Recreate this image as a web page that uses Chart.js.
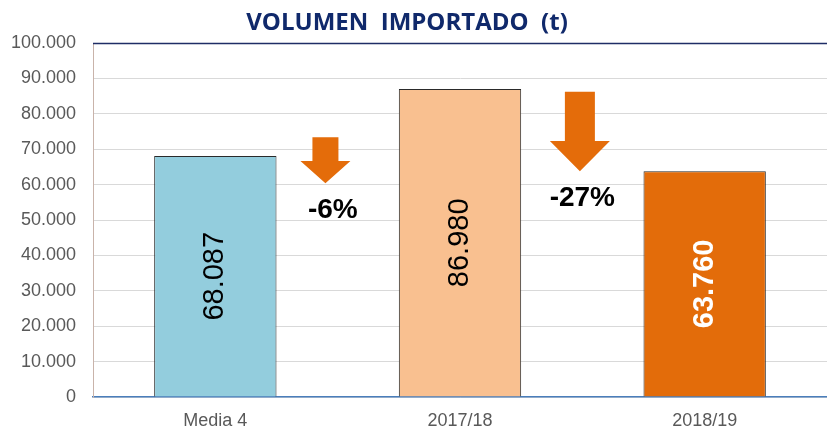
<!DOCTYPE html>
<html>
<head>
<meta charset="utf-8">
<script src="https://cdn.jsdelivr.net/npm/chart.js@4/dist/chart.umd.min.js"></script>
<style>
  html, body { margin: 0; padding: 0; background: #fff; }
  #wrap { width: 827px; height: 440px; position: relative; }
</style>
</head>
<body>
<div id="wrap"><canvas id="volChart"></canvas></div>
<script>
// ── Data ───────────────────────────────────────────────────────
const categories = ['Media 4', '2017/18', '2018/19'];
const volumes = [68087, 86980, 63760];
const barColors = ['#93cddd', '#f9c090', '#e36c0a'];
const labelColors = ['#000000', '#000000', '#ffffff'];

const yTicks = [0, 10000, 20000, 30000, 40000, 50000, 60000, 70000, 80000, 90000, 100000];

// change arrows between bars (x in category index, y in tonnes)
const changeLabels = ['-6%', '-27%'];
const arrowX = [0.45, 1.49];
const arrowTop = [73400, 86200];
const arrowHeadTop = [66700, 72300];
const arrowTip = [60400, 63800];
const changeLabelX = [0.48, 1.50];
const changeLabelY = [52800, 56000];

const fmt = (v) => v.toLocaleString('de-DE');

// ── Plugins ────────────────────────────────────────────────────
const decorPlugin = {
  id: 'decor',
  afterDatasetsDraw(chart) {
    const { ctx, chartArea, scales } = chart;
    const xs = scales.x, ys = scales.y;

    // navy line along the top of the plot
    ctx.save();
    ctx.strokeStyle = '#1f2d66';
    ctx.lineWidth = 1.5;
    ctx.beginPath();
    ctx.moveTo(chartArea.left, chartArea.top + 0.5);
    ctx.lineTo(chartArea.right, chartArea.top + 0.5);
    ctx.stroke();

    // rotated value labels inside bars
    const meta = chart.getDatasetMeta(0);
    meta.data.forEach((bar, i) => {
      const cy = (bar.y + bar.base) / 2;
      ctx.save();
      ctx.translate(bar.x, cy);
      ctx.rotate(-Math.PI / 2);
      ctx.fillStyle = labelColors[i];
      ctx.font = (i === 2 ? 'bold ' : '') + '29px "Liberation Sans", Arial, sans-serif';
      ctx.textAlign = 'center';
      ctx.textBaseline = 'middle';
      ctx.fillText(fmt(volumes[i]), 0, 0);
      ctx.restore();
    });

    // down arrows
    const shaftW = [26, 30], headW = [50, 60];
    ctx.fillStyle = '#e46c0a';
    arrowX.forEach((ax, i) => {
      const cx = xs.getPixelForValue(ax);
      const t = ys.getPixelForValue(arrowTop[i]);
      const h = ys.getPixelForValue(arrowHeadTop[i]);
      const b = ys.getPixelForValue(arrowTip[i]);
      ctx.beginPath();
      ctx.moveTo(cx - shaftW[i] / 2, t);
      ctx.lineTo(cx + shaftW[i] / 2, t);
      ctx.lineTo(cx + shaftW[i] / 2, h);
      ctx.lineTo(cx + headW[i] / 2, h);
      ctx.lineTo(cx, b);
      ctx.lineTo(cx - headW[i] / 2, h);
      ctx.lineTo(cx - shaftW[i] / 2, h);
      ctx.closePath();
      ctx.fill();
    });

    // percent change labels
    ctx.fillStyle = '#000';
    ctx.font = 'bold 28px "Liberation Sans", Arial, sans-serif';
    ctx.textAlign = 'center';
    ctx.textBaseline = 'middle';
    changeLabels.forEach((t, i) => {
      ctx.fillText(t, xs.getPixelForValue(changeLabelX[i]), ys.getPixelForValue(changeLabelY[i]));
    });

    // title
    ctx.fillStyle = '#10296b';
    ctx.font = 'bold 24px "Open Sans", sans-serif';
    ctx.fillText('VOLUMEN  IMPORTADO  (t)', 407, 23);
    ctx.restore();
  }
};

// ── Chart ──────────────────────────────────────────────────────
new Chart(document.getElementById('volChart'), {
  type: 'bar',
  data: {
    labels: categories,
    datasets: [{
      data: volumes,
      backgroundColor: barColors,
      borderColor: '#2a2a2a',
      borderWidth: 1,
      barPercentage: 1,
      categoryPercentage: 0.5
    }]
  },
  options: {
    responsive: true, maintainAspectRatio: false, animation: false,
    layout: { padding: { top: 43, right: 0, left: 0, bottom: 0 } },
    plugins: { legend: { display: false }, tooltip: { enabled: false }, title: { display: false } },
    scales: {
      x: {
        grid: { display: false, drawTicks: false },
        border: { color: '#4a7ebb', width: 1.5 },
        ticks: { color: '#595959', padding: 13, font: { family: '"Liberation Sans Narrow", "Liberation Sans", Arial', size: 18 } },
        afterFit(scale) { scale.height = 43; }
      },
      y: {
        min: 0, max: 100000,
        afterBuildTicks(scale) { scale.ticks = yTicks.map(v => ({ value: v })); },
        grid: { color: '#d9d9d9', drawTicks: false },
        border: { color: '#c9b3aa' },
        ticks: { color: '#595959', padding: 17, callback: (v) => fmt(v), font: { family: '"Liberation Sans", Arial', size: 18 } },
        afterFit(scale) { scale.width = 93; }
      }
    }
  },
  plugins: [decorPlugin]
});
</script>
</body>
</html>
